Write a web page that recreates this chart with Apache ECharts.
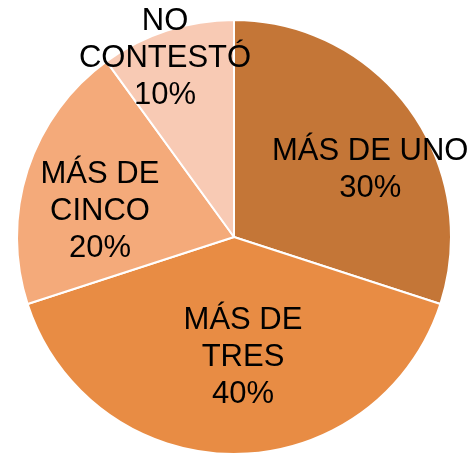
<!DOCTYPE html>
<html style="height: 100%">
  <head>
     <meta charset="utf-8">
  </head>
  <body style="height: 100%; margin: 0; background: #fff">
     <div id="container" style="width: 472px; height: 458px"></div>
     <script type="text/javascript" src="https://cdn.jsdelivr.net/npm/echarts@6/dist/echarts.min.js"></script>
     <script type="text/javascript">
var categories = ['MÁS DE UNO', 'MÁS DE TRES', 'MÁS DE CINCO', 'NO CONTESTÓ'];
var values = [30, 40, 20, 10];
var colors = ['#C47637', '#E88C44', '#F4AA7A', '#F8CAB4'];
// break the name onto two lines?
var wrapName = [false, true, true, true];
// nudge each label from its default inside spot
var labelShift = [[46, -2], [9, 8.5], [-28, 8.5], [-34.5, -73]];

var dom = document.getElementById("container");
var myChart = echarts.init(dom);

var data = categories.map(function (name, i) {
    return { name: name, value: values[i], itemStyle: { color: colors[i] } };
});

var option = {
    animation: false,
    series: [{
        type: 'pie',
        center: [234, 237],
        radius: 217,
        startAngle: 90,
        clockwise: true,
        silent: true,
        itemStyle: {
            borderColor: '#fff',
            borderWidth: 2
        },
        label: {
            show: true,
            position: 'inside',
            color: '#000',
            fontFamily: 'Liberation Sans, Arial, sans-serif',
            fontSize: 31,
            lineHeight: 37,
            align: 'center',
            formatter: function (p) {
                var name = p.name;
                if (wrapName[p.dataIndex]) {
                    var k = name.lastIndexOf(' ');
                    name = name.slice(0, k) + '\n' + name.slice(k + 1);
                }
                return name + '\n' + p.value + '%';
            }
        },
        labelLayout: function (params) {
            var s = labelShift[params.dataIndex];
            return { dx: s[0], dy: s[1] };
        },
        labelLine: { show: false },
        data: data
    }]
};
myChart.setOption(option, true);
     </script>
  </body>
</html>
